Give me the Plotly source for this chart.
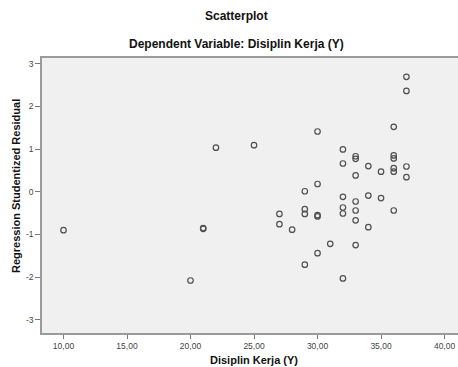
import plotly.graph_objects as go

disiplin_kerja = [37, 37, 36, 30, 25, 32, 33, 33, 36, 36, 32, 34, 35, 36, 36, 37, 37, 33, 30, 29,
                  32, 34, 35, 33, 27, 29, 29, 30, 30, 32, 32, 33, 36, 33, 34, 27, 28, 31, 33, 30,
                  29, 32, 22, 10, 21, 21, 20]
residual = [2.69, 2.36, 1.52, 1.41, 1.09, 0.99, 0.83, 0.77, 0.85, 0.78, 0.66, 0.60, 0.47, 0.55, 0.47,
            0.59, 0.34, 0.38, 0.18, 0.01, -0.12, -0.09, -0.15, -0.23, -0.52, -0.41, -0.52, -0.55,
            -0.58, -0.37, -0.51, -0.44, -0.44, -0.67, -0.83, -0.76, -0.89, -1.22, -1.25, -1.44,
            -1.71, -2.03, 1.03, -0.90, -0.85, -0.87, -2.08]

x_ticks = [10, 15, 20, 25, 30, 35, 40]
x_ticktext = ["10,00", "15,00", "20,00", "25,00", "30,00", "35,00", "40,00"]
y_ticks = [-3, -2, -1, 0, 1, 2, 3]
y_ticktext = ["-3", "-2", "-1", "0", "1", "2", "3"]

W, H = 458, 367
L, R, T, B = 42, 0, 58, 367 - 333
pw, ph = W - L - R, H - T - B

def px(xp):
    return (xp - L) / pw

def py(yp):
    return (H - B - yp) / ph

fig = go.Figure()
fig.add_trace(go.Scatter(
    x=disiplin_kerja, y=residual, mode="markers",
    marker=dict(symbol="circle-open", size=5.5, color="#505050", line=dict(width=1.2, color="#505050")),
    hoverinfo="x+y", showlegend=False,
))

font = "Liberation Sans, Arial, sans-serif"
fig.update_layout(
    width=W, height=H,
    margin=dict(l=L, r=R, t=T, b=B),
    paper_bgcolor="white", plot_bgcolor="#F0F0F0",
    font=dict(family=font, color="#333333"),
    xaxis=dict(range=[8.307, 41.06], tickvals=x_ticks, ticktext=x_ticktext,
               showgrid=False, zeroline=False, showline=True, linecolor="#9A9A9A", linewidth=1.5,
               mirror=True, ticks="outside", ticklen=4, tickcolor="#777777",
               tickfont=dict(size=8.5, color="#444444", family=font)),
    yaxis=dict(range=[-3.309, 3.131], tickvals=y_ticks, ticktext=y_ticktext,
               showgrid=False, zeroline=False, showline=True, linecolor="#9A9A9A", linewidth=1.5,
               ticks="outside", ticklen=5, tickcolor="#777777",
               tickfont=dict(size=8.5, color="#444444", family=font)),
    annotations=[
        dict(text="<b>Scatterplot</b>", x=px(236), y=py(16), xref="paper", yref="paper",
             showarrow=False, xanchor="center", yanchor="middle",
             font=dict(size=12, color="#111111", family=font)),
        dict(text="<b>Dependent Variable: Disiplin Kerja (Y)</b>", x=px(236), y=py(44),
             xref="paper", yref="paper", showarrow=False, xanchor="center", yanchor="middle",
             font=dict(size=12, color="#111111", family=font)),
        dict(text="<b>Disiplin Kerja (Y)</b>", x=px(254), y=py(360), xref="paper", yref="paper",
             showarrow=False, xanchor="center", yanchor="middle",
             font=dict(size=11, color="#111111", family=font)),
        dict(text="<b>Regression Studentized Residual</b>", x=px(16), y=py(186), xref="paper",
             yref="paper", showarrow=False, xanchor="center", yanchor="middle", textangle=-90,
             font=dict(size=11, color="#111111", family=font)),
    ],
)

fig.write_html(
    "out.html",
    config={"displayModeBar": False},
    post_script="document.body.style.margin='0';document.body.style.overflow='hidden';",
)
